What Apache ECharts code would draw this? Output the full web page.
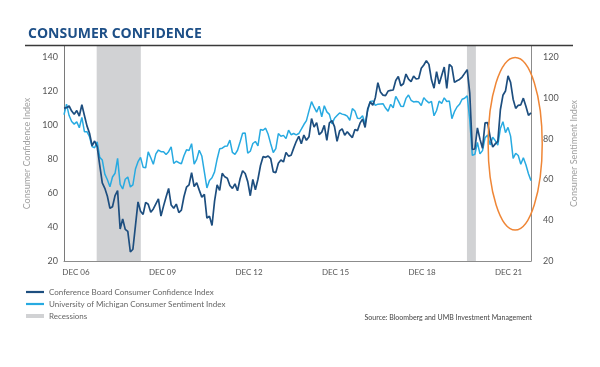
<!DOCTYPE html>
<html>
<head>
<meta charset="utf-8">
<script src="https://cdn.jsdelivr.net/npm/echarts@6/dist/echarts.min.js"></script>
<style>html,body{margin:0;padding:0;background:#fff;}#chart{width:600px;height:367px;}</style>
</head>
<body>
<div id="chart"></div>
<script>
// Monthly observations, Dec 2006 .. Mar 2022
const firstMonth = { year: 2006, month: 12 };
const cbIndex = [
  110.0,
  110.2, 111.2, 108.2, 106.3, 108.5, 105.3, 111.9, 105.6, 99.5, 95.2, 87.8, 90.6,
  87.3, 76.4, 65.9, 62.8, 58.1, 51.0, 51.9, 58.5, 61.4, 38.8, 44.7, 38.6,
  37.4, 25.3, 26.9, 40.8, 54.8, 49.3, 47.4, 54.5, 53.4, 48.7, 50.6, 53.6,
  56.5, 46.4, 52.3, 57.7, 62.7, 52.9, 51.0, 53.5, 48.5, 49.9, 57.8, 63.4,
  64.8, 72.0, 63.8, 66.0, 61.7, 57.6, 59.2, 45.2, 46.4, 40.9, 55.2, 64.8,
  61.5, 71.6, 69.5, 68.7, 64.4, 62.7, 65.4, 61.3, 68.4, 73.1, 71.5, 66.7,
  58.4, 68.0, 61.9, 68.1, 76.2, 81.4, 81.0, 81.8, 80.2, 72.4, 72.0, 77.5,
  79.4, 78.3, 83.9, 81.7, 82.2, 86.4, 90.3, 93.4, 89.0, 94.1, 91.0, 93.1,
  103.8, 98.8, 101.4, 94.3, 95.8, 99.8, 91.0, 101.3, 102.6, 99.1, 90.4, 96.5,
  97.8, 94.0, 96.1, 94.2, 92.6, 97.4, 96.7, 101.1, 103.5, 98.6, 109.4, 113.7,
  111.6, 116.1, 124.9, 119.4, 117.6, 117.3, 120.0, 120.4, 120.6, 126.2, 128.6, 123.1,
  124.3, 130.0, 127.0, 125.6, 128.8, 127.1, 127.4, 133.4, 135.3, 137.9, 135.7, 126.6,
  121.7, 131.4, 124.2, 129.2, 134.1, 121.5, 135.7, 134.2, 125.1, 126.1, 126.8, 128.2,
  130.4, 132.6, 118.8, 85.7, 85.9, 98.3, 91.7, 86.3, 101.3, 101.4, 92.9, 87.1,
  88.9, 90.4, 109.0, 117.5, 120.0, 128.9, 125.1, 115.2, 109.8, 111.6, 111.9, 115.8,
  111.1, 105.7, 107.2
];
const umichIndex = [
  91.7,
  96.9, 91.3, 88.4, 87.1, 88.3, 85.3, 90.4, 83.4, 83.4, 80.9, 76.1, 75.5,
  78.4, 70.8, 69.5, 62.6, 59.8, 56.4, 61.2, 63.0, 70.3, 57.6, 55.3, 60.1,
  61.2, 56.3, 57.3, 65.1, 68.7, 70.8, 66.0, 65.7, 73.5, 70.6, 67.4, 72.5,
  74.4, 73.6, 73.6, 72.2, 73.6, 76.0, 67.8, 68.9, 68.2, 67.7, 71.6, 74.5,
  74.2, 77.5, 67.5, 69.8, 74.3, 71.5, 63.7, 55.8, 59.5, 60.8, 63.7, 69.9,
  75.0, 75.3, 76.2, 76.4, 79.3, 73.2, 72.3, 74.3, 78.3, 82.6, 82.7, 72.9,
  73.8, 77.6, 78.6, 76.4, 84.5, 84.1, 85.1, 82.1, 77.5, 73.2, 75.1, 82.5,
  81.2, 81.6, 80.0, 84.1, 81.9, 82.5, 81.8, 82.5, 84.6, 86.9, 88.8, 93.6,
  98.1, 95.4, 93.0, 95.9, 90.7, 96.1, 93.1, 91.9, 87.2, 90.0, 91.3, 92.6,
  92.0, 91.7, 91.0, 89.0, 94.7, 93.5, 90.0, 89.8, 91.2, 87.2, 93.8, 98.2,
  98.5, 96.3, 96.9, 97.0, 97.1, 95.0, 93.4, 96.8, 95.1, 100.7, 98.5, 95.9,
  95.7, 99.7, 101.4, 98.8, 98.0, 98.2, 97.9, 96.2, 100.1, 98.6, 97.5, 98.3,
  91.2, 93.8, 98.4, 97.2, 100.0, 98.2, 98.4, 89.8, 93.2, 95.5, 96.8, 99.3,
  99.8, 101.0, 89.1, 71.8, 72.3, 78.1, 72.5, 74.1, 80.4, 81.8, 76.9, 80.7,
  79.0, 76.8, 84.9, 88.3, 82.9, 85.5, 81.2, 70.3, 72.8, 71.7, 67.4, 70.6,
  67.2, 62.8, 59.4
];
// recession shading, in month positions from Dec 2006
const recessions = [[12.8, 30.1], [157.9, 161.4]];
// x tick labels and their positions (month positions)
const xTickLabels = ['DEC 06', 'DEC 09', 'DEC 12', 'DEC 15', 'DEC 18', 'DEC 21'];
const xTickPos = [4.7, 38.6, 72.5, 106.4, 140.3, 174.2];
const leftTicks = [20, 40, 60, 80, 100, 120, 140];
const rightTicks = [20, 40, 60, 80, 100, 120];

const months = [];
for (let i = 0; i < cbIndex.length; i++) {
  const m = (firstMonth.month - 1 + i) % 12 + 1;
  const y = firstMonth.year + Math.floor((firstMonth.month - 1 + i) / 12);
  months.push(y + '-' + String(m).padStart(2, '0'));
}
const cbData = cbIndex.map((v, i) => [i, v]);
const umData = umichIndex.map((v, i) => [i, v]);

const FONT = 'Lato';
const LINE_ICON = 'path://M0,0h18v2.2h-18z';
const chart = echarts.init(document.getElementById('chart'), null, { renderer: 'canvas' });
const option = {
  backgroundColor: '#fff',
  animation: false,
  title: {
    text: 'CONSUMER CONFIDENCE',
    left: 23, top: 22,
    textStyle: { fontFamily: 'Open Sans', fontWeight: 'bold', fontSize: 14, color: '#1d4f87' }
  },
  grid: { left: 64, right: 69, top: 46, bottom: 106 },
  legend: {
    orient: 'vertical', left: 21, top: 283,
    itemWidth: 18, itemHeight: 4, itemGap: 4, symbolKeepAspect: true,
    textStyle: { fontFamily: FONT, fontSize: 8, color: '#666' },
    data: [
      { name: 'Conference Board Consumer Confidence Index', icon: LINE_ICON },
      { name: 'University of Michigan Consumer Sentiment Index', icon: LINE_ICON },
      { name: 'Recessions', icon: 'rect' }
    ]
  },
  xAxis: {
    type: 'value', min: 0, max: cbIndex.length - 1,
    axisLine: { lineStyle: { color: '#8c8c8c', width: 1 } },
    axisTick: { show: false },
    splitLine: { show: false },
    axisLabel: {
      customValues: xTickPos,
      formatter: (v) => { const k = xTickPos.indexOf(v); return k >= 0 ? xTickLabels[k] : ''; },
      fontFamily: FONT, fontSize: 8, color: '#555', margin: 7
    }
  },
  yAxis: [
    {
      type: 'value', min: 20, max: 146.5, interval: 20,
      name: 'Consumer Confidence Index', nameLocation: 'middle', nameGap: 29, nameRotate: 90,
      nameTextStyle: { fontFamily: FONT, fontSize: 9, color: '#a0a0a0' },
      axisLine: { show: true, lineStyle: { color: '#7a7a7a', width: 1 } },
      axisTick: { show: false }, splitLine: { show: false },
      axisLabel: {
        customValues: leftTicks,
        fontFamily: FONT, fontSize: 9, color: '#555', margin: 6
      }
    },
    {
      type: 'value', min: 20, max: 125.4, interval: 20, position: 'right',
      name: 'Consumer Sentiment Index', nameLocation: 'middle', nameGap: 32, nameRotate: 90,
      nameTextStyle: { fontFamily: FONT, fontSize: 9, color: '#a0a0a0' },
      axisLine: { show: true, lineStyle: { color: '#8c8c8c', width: 1 } },
      axisTick: { show: false }, splitLine: { show: false },
      axisLabel: {
        customValues: rightTicks,
        fontFamily: FONT, fontSize: 9, color: '#555', margin: 12
      }
    }
  ],
  series: [
    {
      name: 'Recessions', type: 'bar', data: [], z: 1,
      itemStyle: { color: '#d1d2d4' },
      markArea: {
        silent: true,
        itemStyle: { color: '#d1d2d4' },
        data: recessions.map(r => [{ xAxis: r[0] }, { xAxis: r[1] }])
      }
    },
    {
      name: 'University of Michigan Consumer Sentiment Index', type: 'line', yAxisIndex: 1,
      data: umData, symbol: 'none', z: 3,
      lineStyle: { color: '#27aae1', width: 1.5 }, itemStyle: { color: '#27aae1' }
    },
    {
      name: 'Conference Board Consumer Confidence Index', type: 'line', yAxisIndex: 0,
      data: cbData, symbol: 'none', z: 4,
      lineStyle: { color: '#1d4e7f', width: 1.7 }, itemStyle: { color: '#1d4e7f' }
    }
  ]
};
chart.setOption(option);

// annotation ellipse anchored in data coordinates (month position, left-axis value)
const ellipseCenter = [176.8, 89];
const ellipseRadii = [10.6, 50.8];
const c = chart.convertToPixel({ xAxisIndex: 0, yAxisIndex: 0 }, ellipseCenter);
const e = chart.convertToPixel({ xAxisIndex: 0, yAxisIndex: 0 },
  [ellipseCenter[0] + ellipseRadii[0], ellipseCenter[1] + ellipseRadii[1]]);
chart.setOption({
  graphic: [
    { type: 'line', shape: { x1: 25, y1: 45.5, x2: 573, y2: 45.5 }, style: { stroke: '#3a3a3a', lineWidth: 1.5 }, z: 10 },
    { type: 'ellipse', shape: { cx: c[0], cy: c[1], rx: Math.abs(e[0] - c[0]), ry: Math.abs(c[1] - e[1]) },
      style: { fill: 'none', stroke: '#ef8636', lineWidth: 1.5 }, z: 10 },
    { type: 'text', right: 68, top: 314,
      style: { text: 'Source: Bloomberg and UMB Investment Management', fontFamily: FONT, fontSize: 7, fill: '#444' } }
  ]
});
</script>
</body>
</html>
